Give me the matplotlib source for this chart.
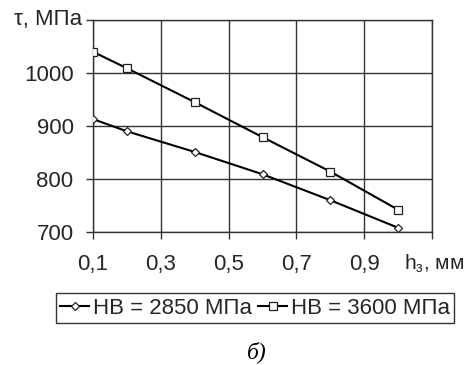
import matplotlib
matplotlib.use("Agg")
import matplotlib.pyplot as plt

plt.rcParams['font.family'] = ['Liberation Sans', 'DejaVu Sans']
plt.rcParams['mathtext.fontset'] = 'custom'
plt.rcParams['mathtext.rm'] = 'Liberation Sans'

x_vals = [0.1, 0.2, 0.4, 0.6, 0.8, 1.0]
hb2850 = [913, 890, 851, 809, 760, 708]
hb3600 = [1040, 1009, 945, 879, 814, 742]
series_labels = ['HB = 2850 МПа', 'HB = 3600 МПа']
x_ticks = [0.1, 0.3, 0.5, 0.7, 0.9, 1.1]
x_ticklabels = ['0,1', '0,3', '0,5', '0,7', '0,9', '']
y_ticks = [700, 800, 900, 1000, 1100]
y_ticklabels = ['700', '800', '900', '1000', '']

fig = plt.figure(figsize=(4.73, 3.65), dpi=100)
ax = fig.add_axes([93/473, 1-232/365, (432-93)/473, (232-20)/365])

tc = '#262626'
ax.plot(x_vals, hb2850, color='black', lw=1.5, marker='D', markersize=4.3,
        markerfacecolor='white', markeredgecolor='#222222', markeredgewidth=0.9,
        label=series_labels[0], zorder=3)
ax.plot(x_vals, hb3600, color='black', lw=1.5, marker='s', markersize=6,
        markerfacecolor='white', markeredgecolor='#222222', markeredgewidth=0.9,
        label=series_labels[1], zorder=3)

ax.set_xlim(0.1, 1.1)
ax.set_ylim(700, 1100)
ax.set_xticks(x_ticks)
ax.set_xticklabels(x_ticklabels)
ax.set_yticks(y_ticks)
ax.set_yticklabels(y_ticklabels)
ax.grid(True, color='#333333', lw=1.0)
ax.set_axisbelow(True)
for s in ax.spines.values():
    s.set_color('#333333')
    s.set_linewidth(1.0)
ax.tick_params(axis='both', direction='out', length=5, width=1.0, color='#333333',
               labelsize=16, labelcolor=tc)
ax.tick_params(axis='y', pad=9)
ax.tick_params(axis='x', pad=11)

fig.text(82/473, 1-19/365, 'τ, МПа', ha='right', va='center', fontsize=16, color=tc)
fig.text(404/473, 1-264/365, 'h$_\\mathregular{з}$, мм', ha='left', va='center', fontsize=15, color=tc)

leg = fig.legend(loc='center', bbox_to_anchor=(255/473, 1-308/365), ncol=2,
                 frameon=True, fancybox=False, fontsize=16, handlelength=1.3,
                 handletextpad=0.15, columnspacing=0.3, borderpad=0.2,
                 borderaxespad=0)
leg.get_frame().set_edgecolor('black')
leg.get_frame().set_linewidth(1.0)
for t in leg.get_texts():
    t.set_color(tc)

fig.text(257/473, 1-352/365, 'б)', ha='center', va='center', fontsize=17,
         family='Liberation Serif', style='italic', color='black')

fig.savefig('out.png', dpi=100)
